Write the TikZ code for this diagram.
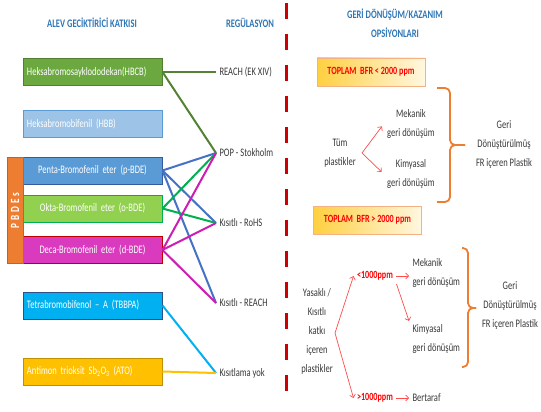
\documentclass[tikz,border=0pt]{standalone}
\usepackage{fontspec}
\setmainfont{Carlito}[FakeStretch=0.74]
\usetikzlibrary{arrows.meta}
\definecolor{headblue}{RGB}{46,117,182}
\definecolor{labelgray}{RGB}{56,56,56}
\definecolor{dashred}{RGB}{204,0,0}
\definecolor{braceorange}{RGB}{237,125,49}
\definecolor{hbcbgreen}{RGB}{108,168,64}
\definecolor{hbcbline}{RGB}{84,130,53}
\definecolor{hbbblue}{RGB}{157,195,230}
\definecolor{pentablue}{RGB}{91,155,213}
\definecolor{pentaline}{RGB}{68,114,196}
\definecolor{oktagreen}{RGB}{146,208,80}
\definecolor{oktaline}{RGB}{0,176,80}
\definecolor{decapink}{RGB}{218,58,190}
\definecolor{decaline}{RGB}{204,30,180}
\definecolor{tbbpacyan}{RGB}{0,176,240}
\definecolor{atogold}{RGB}{255,192,0}
\begin{document}
\begin{tikzpicture}[x=1pt, y=-1pt,
    every node/.style={font=\fontsize{11.5}{19}\selectfont},
    frbox/.style={draw, line width=1pt, minimum height=27pt, text width=131pt, inner xsep=4pt, text=white},
    frleft/.style={frbox, align=left},
    frmid/.style={frbox, align=center},
    reg/.style={anchor=west, text=labelgray},
    head/.style={text=headblue, align=center, font=\bfseries\fontsize{11.5}{19}\selectfont},
    opt/.style={text=labelgray, align=center},
    ppmbox/.style={draw=braceorange!60, line width=0.8pt, left color=atogold!75, right color=atogold!12, minimum width=108pt, minimum height=28pt, text=red, font=\bfseries\fontsize{11}{13}\selectfont},
    ppm/.style={text=red, font=\bfseries\fontsize{11}{13}\selectfont},
    redarrow/.style={draw=red!70, line width=0.7pt, -{Straight Barb[length=3pt]}},
    link/.style={line width=2pt},
    orbrace/.style={draw=braceorange, line width=1.8pt, rounded corners=5pt}]
    \useasboundingbox (0,0) rectangle (541,412);
    % headers
    \node[head] (hAlev) at (92,23) {ALEV GECİKTİRİCİ KATKISI};
    \node[head] (hReg) at (250,23) {REGÜLASYON};
    \node[head] (hOps) at (395,23) {GERİ DÖNÜŞÜM/KAZANIM\\OPSİYONLARI};
    % flame retardants
    \node[frleft, fill=hbcbgreen, draw=hbcbgreen!75!black] (hbcb) at (92.5,72) {Heksabromosayklododekan(HBCB)};
    \node[frleft, fill=hbbblue, draw=pentablue] (hbb) at (92.5,124) {Heksabromobifenil (HBB)};
    \node[frmid, fill=pentablue, draw=pentaline!80!black] (penta) at (92.5,170.5) {Penta-Bromofenil eter (p-BDE)};
    \node[frmid, fill=oktagreen, draw=oktaline] (okta) at (92.5,208.5) {Okta-Bromofenil eter (o-BDE)};
    \node[frmid, fill=decapink, draw=red!75!black] (deca) at (92.5,250) {Deca-Bromofenil eter (d-BDE)};
    \node[frleft, fill=tbbpacyan, draw=pentaline!70!black] (tbbpa) at (92.5,305.5) {Tetrabromobifenol -- A (TBBPA)};
    \node[frleft, fill=atogold, draw=atogold!75!black] (ato) at (92.5,371.5) {Antimon trioksit Sb\textsubscript{2}O\textsubscript{3} (ATO)};
    \node[draw=braceorange!80!black, fill=braceorange, rotate=90, minimum width=106pt, minimum height=16pt, inner sep=0pt, text=white, font=\bfseries\fontsize{12.5}{12}\selectfont\addfontfeature{LetterSpace=22}] (pbde) at (15,210.5) {PBDEs};
    % regulations
    \foreach \y/\name/\txt in {72/rEk/REACH (EK XIV), 153/rPop/POP - Stokholm, 223/rRohs/Kısıtlı - RoHS, 303/rReach/Kısıtlı - REACH, 373/rYok/Kısıtlama yok}
        \node[reg] (\name) at (216,\y) {\txt};
    \foreach \from/\to/\col in {hbcb/rEk/hbcbline, hbcb/rPop/hbcbline, penta/rPop/pentaline, penta/rRohs/pentaline, penta/rReach/pentaline, okta/rPop/oktaline, okta/rRohs/oktaline, deca/rPop/decaline, deca/rRohs/decaline, deca/rReach/decaline, tbbpa/rYok/tbbpacyan, ato/rYok/atogold}
        \draw[link, \col] (\from.east) -- (\to.west);
    % divider
    \coordinate (dashTop) at (286,3);
    \coordinate (dashBot) at (286,405);
    \draw[dashred, line width=3pt, dash pattern=on 16pt off 15pt] (dashTop) -- (dashBot);
    % total BFR < 2000 ppm
    \node[ppmbox] (ppmLow) at (371,72) {TOPLAM \ BFR < 2000 ppm};
    \node[opt] (tum) at (340,153) {Tüm\\plastikler};
    \coordinate (tumFork) at (362,153);
    \node[opt] (mek1) at (411,124) {Mekanik\\geri dönüşüm};
    \node[opt] (kim1) at (411,174) {Kimyasal\\geri dönüşüm};
    \draw[redarrow, shorten >=3pt] (tumFork) -- (mek1.west);
    \draw[redarrow, shorten >=3pt] (tumFork) -- (kim1.west);
    \coordinate (b1Top) at (437,88);
    \coordinate (b1Tip) at (465,145);
    \coordinate (b1Bot) at (437,202);
    \draw[orbrace] (b1Top) -| ([xshift=-15pt]b1Tip) -- (b1Tip);
    \draw[orbrace] (b1Bot) -| ([xshift=-15pt]b1Tip) -- (b1Tip);
    \node[opt] (geri1) at (504,145) {Geri\\Dönüştürülmüş\\FR içeren Plastik};
    % total BFR > 2000 ppm
    \node[ppmbox] (ppmHigh) at (367.5,220) {TOPLAM \ BFR > 2000 ppm};
    \node[opt] (yasak) at (317,331) {Yasaklı /\\Kısıtlı\\katkı\\içeren\\plastikler};
    \coordinate (yasakFork) at (335,333);
    \node[ppm] (lt) at (375,276) {<1000ppm};
    \node[ppm] (gt) at (375,398) {>1000ppm};
    \node[opt, align=left, anchor=west] (mek2) at (409,273) {Mekanik\\geri dönüşüm};
    \node[opt, align=left, anchor=west] (kim2) at (409,339) {Kimyasal\\geri dönüşüm};
    \node[opt, anchor=west] (bert) at (409,398) {Bertaraf};
    \draw[redarrow] (yasakFork) -- (lt.west);
    \draw[redarrow] (yasakFork) -- (gt.west);
    \draw[redarrow] (lt.east) -- (lt.east -| mek2.west);
    \draw[redarrow] (lt.south east) -- (kim2.north west);
    \draw[redarrow] (gt.east) -- (bert.west);
    \coordinate (b2Top) at (462,248);
    \coordinate (b2Tip) at (476,308);
    \coordinate (b2Bot) at (462,367);
    \draw[orbrace] (b2Top) -| ([xshift=-8pt]b2Tip) -- (b2Tip);
    \draw[orbrace] (b2Bot) -| ([xshift=-8pt]b2Tip) -- (b2Tip);
    \node[opt] (geri2) at (510,306) {Geri\\Dönüştürülmüş\\FR içeren Plastik};
\end{tikzpicture}
\end{document}
